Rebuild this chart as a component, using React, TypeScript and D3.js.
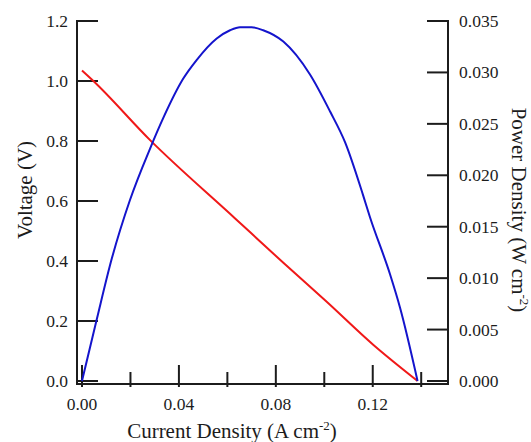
import React from 'react';
import * as d3 from 'd3';

// polarisation curve: voltage vs current density
const voltCurrent = [0, 0.0047, 0.0281, 0.0632, 0.0831, 0.101, 0.1203, 0.1385];
const voltage = [1.035, 1.0, 0.803, 0.542, 0.394, 0.264, 0.12, 0];

// power density curve
const powerCurrent = [
  0, 0.0061, 0.0123, 0.0198, 0.0281, 0.0336, 0.0418, 0.0473, 0.0556, 0.0611, 0.0652, 0.07,
  0.0748, 0.0831, 0.0941, 0.1024, 0.1086, 0.1161, 0.1189, 0.1271, 0.1313, 0.1385,
];
const power = [
  0, 0.006, 0.0119, 0.0176, 0.0226, 0.0256, 0.0294, 0.0312, 0.0333, 0.0341, 0.0344, 0.0344,
  0.0341, 0.033, 0.0298, 0.0262, 0.0232, 0.018, 0.0159, 0.0104, 0.0071, 0,
];

const xMajorTicks = [0, 0.04, 0.08, 0.12];
const xMinorTicks = [0.02, 0.06, 0.1, 0.14];
const voltTicks = [0, 0.2, 0.4, 0.6, 0.8, 1.0, 1.2];
const powerTicks = [0, 0.005, 0.01, 0.015, 0.02, 0.025, 0.03, 0.035];

const W = 531;
const H = 442;
const axisLeft = 77;
const axisRight = 448;
const axisTop = 21;
const axisBottom = 384;

const font = '"Liberation Serif", "Times New Roman", serif';
const ink = '#1c1c1c';

const App = () => {
  const x = d3.scaleLinear().domain([0, 0.14]).range([82, 421.2]);
  const yV = d3.scaleLinear().domain([0, 1.2]).range([381, 21]);
  const yP = d3.scaleLinear().domain([0, 0.035]).range([381, 21]);

  const vLine = d3
    .line<number>()
    .x((d, i) => x(voltCurrent[i]))
    .y(d => yV(d))
    .curve(d3.curveMonotoneX);
  const pLine = d3
    .line<number>()
    .x((d, i) => x(powerCurrent[i]))
    .y(d => yP(d))
    .curve(d3.curveMonotoneX);

  return (
    <svg width={W} height={H} style={{ position: 'absolute', left: 0, top: 0 }}>
      <rect width={W} height={H} fill="#fff" />

      {/* axes frame */}
      <g stroke={ink} strokeWidth={2} fill="none">
        <line x1={axisLeft} x2={axisLeft} y1={axisTop - 1} y2={axisBottom + 1} />
        <line x1={axisRight} x2={axisRight} y1={axisTop - 1} y2={axisBottom + 1} />
        <line x1={axisLeft} x2={axisRight + 1} y1={axisBottom} y2={axisBottom} />
        {voltTicks.map(t => (
          <line key={'v' + t} x1={axisLeft} x2={axisLeft + 21} y1={yV(t)} y2={yV(t)} />
        ))}
        {powerTicks.map(t => (
          <line key={'p' + t} x1={axisRight - 21} x2={axisRight} y1={yP(t)} y2={yP(t)} />
        ))}
        {xMajorTicks.map(t => (
          <line key={'xm' + t} x1={x(t)} x2={x(t)} y1={axisBottom - 19} y2={axisBottom + 3} />
        ))}
        {xMinorTicks.map(t => (
          <line key={'xn' + t} x1={x(t)} x2={x(t)} y1={axisBottom - 12} y2={axisBottom + 3} />
        ))}
      </g>

      {/* tick labels */}
      <g fontFamily={font} fontSize={17.5} fill={ink}>
        {voltTicks.map(t => (
          <text key={'vl' + t} x={68} y={yV(t)} dy="0.34em" textAnchor="end">
            {d3.format('.1f')(t)}
          </text>
        ))}
        {powerTicks.map(t => (
          <text key={'pl' + t} x={459} y={yP(t)} dy="0.34em" textAnchor="start">
            {d3.format('.3f')(t)}
          </text>
        ))}
        {xMajorTicks.map(t => (
          <text key={'xl' + t} x={x(t)} y={410} textAnchor="middle">
            {d3.format('.2f')(t)}
          </text>
        ))}
      </g>

      {/* axis titles */}
      <g fontFamily={font} fontSize={21} fill={ink}>
        <text x={232} y={438} textAnchor="middle">
          Current Density (A cm
          <tspan fontSize={13} dy={-8}>-2</tspan>
          <tspan dy={8}>)</tspan>
        </text>
        <text transform="translate(32,190) rotate(-90)" textAnchor="middle">
          Voltage (V)
        </text>
        <text transform="translate(512,210) rotate(90)" textAnchor="middle">
          Power Density (W cm
          <tspan fontSize={13} dy={-8}>-2</tspan>
          <tspan dy={8}>)</tspan>
        </text>
      </g>

      {/* curves */}
      <path d={vLine(voltage) || ''} fill="none" stroke="#f01818" strokeWidth={2} />
      <path d={pLine(power) || ''} fill="none" stroke="#1414cc" strokeWidth={2} />
    </svg>
  );
};

export default App;
